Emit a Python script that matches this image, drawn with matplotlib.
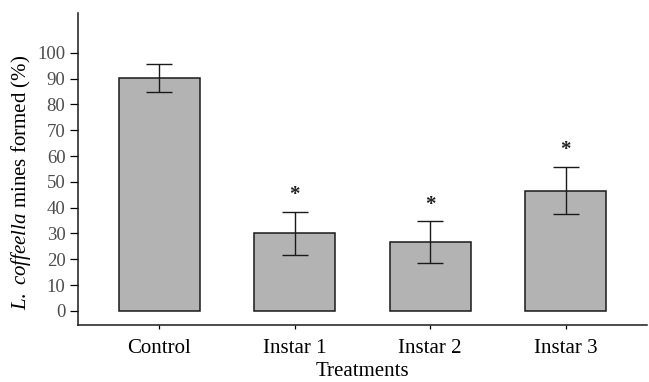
import numpy as np
import matplotlib.pyplot as plt

plt.rcParams['font.family'] = 'Liberation Serif'
plt.rcParams['mathtext.fontset'] = 'custom'
plt.rcParams['mathtext.rm'] = 'Liberation Serif'
plt.rcParams['mathtext.it'] = 'Liberation Serif:italic'

# data
treatments = ['Control', 'Instar 1', 'Instar 2', 'Instar 3']
mines = [90.2, 30.1, 26.6, 46.6]
err = [5.4, 8.3, 8.1, 9.1]
signif = [False, True, True, True]
yticks = list(range(0, 101, 10))

fig = plt.figure(figsize=(6.49, 3.82), dpi=100)
ax = fig.add_axes([0.120, 0.149, 0.877, 0.818])

x = np.arange(len(treatments))
ax.bar(x, mines, width=0.6, color='#b3b3b3', edgecolor='#1a1a1a', linewidth=1.1)
ax.errorbar(x, mines, yerr=err, fmt='none', ecolor='#1a1a1a', elinewidth=1.0,
            capsize=9.5, capthick=1.0)

# asterisks above significant bars
for xi, m, e, s in zip(x, mines, err, signif):
    if s:
        ax.text(xi, m + e + 6.5, '*', ha='center', va='center', fontsize=15,
                fontweight='bold', color='#222222')

ax.set_xlim(-0.6, 3.6)
ax.set_ylim(-5.5, 115.6)
ax.set_yticks(yticks)
ax.set_xticks(x)
ax.set_xticklabels(treatments, fontsize=15)
ax.tick_params(axis='y', length=6, width=0.9, labelsize=13.5, labelcolor='#4d4d4d', pad=3)
ax.tick_params(axis='x', length=3, width=0.9, pad=7)

for side in ['top', 'right']:
    ax.spines[side].set_visible(False)
for side in ['left', 'bottom']:
    ax.spines[side].set_linewidth(1.1)
    ax.spines[side].set_color('#1a1a1a')

ax.set_xlabel('Treatments', fontsize=15, labelpad=3)
ax.set_ylabel(r'$\it{L.\ coffeella}$ mines formed (%)', fontsize=15)
ax.yaxis.set_label_coords(-0.079, 0.458)

fig.savefig('out.png', dpi=100)
